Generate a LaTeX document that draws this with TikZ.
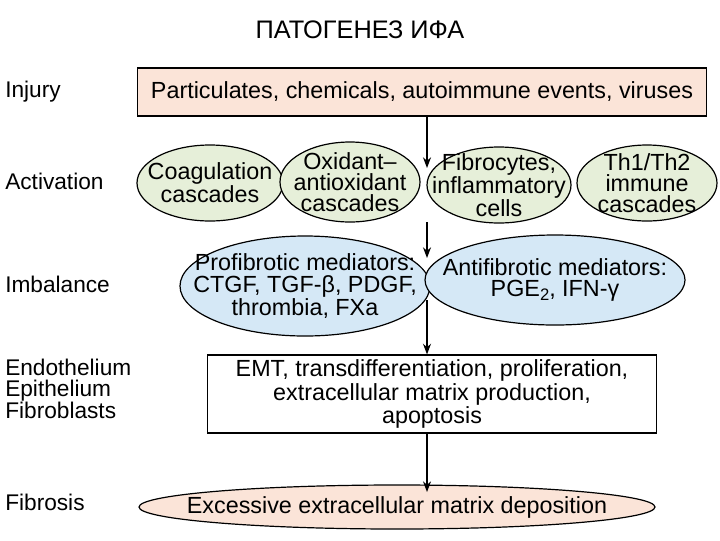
\documentclass[tikz,border=0pt]{standalone}
\usepackage{fontspec}
\setmainfont{Liberation Sans}
\usetikzlibrary{shapes.geometric,arrows.meta}
\definecolor{pinkf}{HTML}{FBE4D8}
\definecolor{greenf}{HTML}{E6EFD9}
\definecolor{bluef}{HTML}{D5E8F6}
\begin{document}
\begin{tikzpicture}[x=0.75pt,y=-0.75pt,
  txt/.style={font=\fontsize{17.5}{16}\selectfont,align=center,inner sep=0pt},
  lab/.style={font=\fontsize{17}{15.5}\selectfont,align=left,anchor=west,inner sep=0pt},
  ell/.style={ellipse,draw,line width=0.9pt,inner sep=0pt},
  arr/.style={-{Stealth[length=8pt,width=6pt]},line width=0.9pt}]
\useasboundingbox (0,0) rectangle (720,540);
\node[font=\fontsize{19}{20}\selectfont] (title) at (360,30) {ПАТОГЕНЕЗ ИФА};
\node[lab] (l1) at (5,92) {Injury};
\node[lab] (l2) at (5,181) {Activation};
\node[lab] (l3) at (5,284) {Imbalance};
\node[lab] (l4) at (5,389) {Endothelium\\Epithelium\\Fibroblasts};
\node[lab] (l5) at (5,502) {Fibrosis};
\node[draw,fill=pinkf,line width=0.9pt,txt,minimum width=569*0.75pt,minimum height=48*0.75pt] (inj) at (422,92) {Particulates, chemicals, autoimmune events, viruses};
\node[ell,fill=greenf,minimum width=146*0.75pt,minimum height=76*0.75pt] (e1) at (210,183) {};
\node[txt] (t1) at (e1) {Coagulation\\cascades};
\node[ell,fill=greenf,minimum width=140*0.75pt,minimum height=80*0.75pt] (e2) at (350,182) {};
\node[txt] (t2) at (e2) {Oxidant--\\antioxidant\\cascades};
\node[ell,fill=greenf,minimum width=144*0.75pt,minimum height=76*0.75pt] (e3) at (499,185) {};
\node[txt] (t3) at (e3) {Fibrocytes,\\inflammatory\\cells};
\node[ell,fill=greenf,minimum width=140*0.75pt,minimum height=76*0.75pt] (e4) at (647,183) {};
\node[txt] (t4) at (e4) {Th1/Th2\\immune\\cascades};
\node[ell,fill=bluef,minimum width=250*0.75pt,minimum height=100*0.75pt] (b1) at (305,286) {};
\node[txt] (tb1) at (b1) {Profibrotic mediators:\\CTGF, TGF-β, PDGF,\\thrombia, FXa};
\node[ell,fill=bluef,minimum width=260*0.75pt,minimum height=90*0.75pt] (b2) at (555,280) {};
\node[txt] (tb2) at (b2) {Antifibrotic mediators:\\PGE\raisebox{-0.3ex}{\fontsize{12.5}{12}\selectfont 2}, IFN-γ};
\node[draw,fill=white,line width=0.9pt,txt,minimum width=449*0.75pt,minimum height=78*0.75pt] (box) at (432,394) {EMT, transdifferentiation, proliferation,\\extracellular matrix production,\\apoptosis};
\node[ell,fill=pinkf,minimum width=516*0.75pt,minimum height=44*0.75pt] (fib) at (397,507) {};
\node[txt] (tf) at (fib) {Excessive extracellular matrix deposition};
\coordinate (a1) at (427,168);
\coordinate (a2s) at (427,222);
\coordinate (a2) at (427,258);
\coordinate (a3s) at (427,300);
\coordinate (a3) at (427,354);
\coordinate (a4) at (427,492);
\draw[arr] (inj.south -| a1) -- (a1);
\draw[arr] (a2s) -- (a2);
\draw[arr] (a3s) -- (box.north -| a3);
\draw[arr] (box.south -| a4) -- (a4);
\end{tikzpicture}
\end{document}
